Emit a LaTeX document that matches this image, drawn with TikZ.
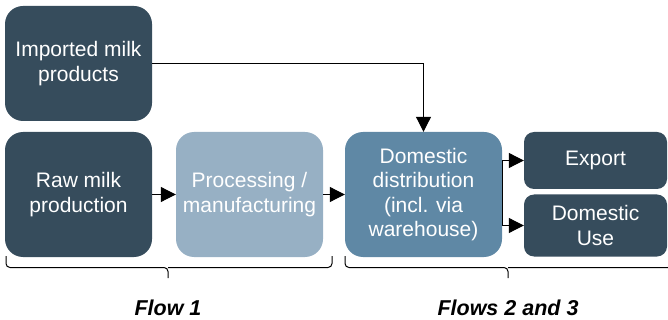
\documentclass[tikz,border=0pt]{standalone}
\usepackage{fontspec}
\setmainfont{Liberation Sans}
\usetikzlibrary{arrows.meta}
\definecolor{darkbox}{HTML}{364C5C}
\definecolor{lightbox}{HTML}{97B0C4}
\definecolor{midbox}{HTML}{5F88A5}
\tikzset{
  box/.style={rectangle, rounded corners=18pt, draw=none, text=white, align=center,
    font=\fontsize{21}{24.6}\selectfont, inner sep=0pt},
  smallbox/.style={box, rounded corners=10pt},
  conn/.style={line width=1pt, -{Triangle[length=15pt,width=15pt]}},
  brace/.style={line width=1pt, rounded corners=4pt},
  flowlabel/.style={font=\fontsize{21.5}{25}\selectfont\bfseries\itshape, text=black}
}
\begin{document}
\begin{tikzpicture}[x=1pt,y=-1pt]
\useasboundingbox (0,0) rectangle (668,320);
\node[box, fill=darkbox, minimum width=147pt, minimum height=115pt] (imp) at (78.5,63.5) {Imported milk\\products};
\node[box, fill=darkbox, minimum width=147pt, minimum height=125pt] (raw) at (78.5,194.5) {Raw milk\\production};
\node[box, fill=lightbox, minimum width=147pt, minimum height=125pt] (proc) at (249.5,194.5) {Processing /\\manufacturing};
\node[box, fill=midbox, minimum width=157pt, minimum height=125pt] (dist) at (423.5,194.5) {Domestic\\distribution\\(incl. via\\warehouse)};
\node[smallbox, fill=darkbox, minimum width=143pt, minimum height=57pt] (exp) at (595.5,160.5) {Export};
\node[smallbox, fill=darkbox, minimum width=143pt, minimum height=62pt] (use) at (595.5,225.5) {Domestic\\Use};
\draw[conn] (imp.east |- 0,64) -| (dist.north);
\draw[conn] (raw) -- (proc);
\draw[conn] (proc) -- (dist);
\draw[line width=1pt, {Triangle[length=15pt,width=15pt]}-{Triangle[length=15pt,width=15pt]}]
  (exp.west) -- (exp.west -| dist.east) -- (use.west -| dist.east) -- (use.west);
% braces
\coordinate (b1l) at (6,256);
\coordinate (b1r) at (332,256);
\coordinate (b1m) at (168,278);
\draw[brace] (b1l) -- (6,267.5) -- (168,267.5) -- (b1m);
\draw[brace] (b1r) -- (332,267.5) -- (168,267.5);
\coordinate (b2l) at (345,256);
\coordinate (b2r) at (672,256);
\coordinate (b2m) at (508,278);
\draw[brace] (b2l) -- (345,267.5) -- (508,267.5) -- (b2m);
\draw[brace] (b2r) -- (672,267.5) -- (508,267.5);
\node[flowlabel] (f1) at (168,308) {Flow 1};
\node[flowlabel] (f2) at (508,308) {Flows 2 and 3};
\end{tikzpicture}
\end{document}
